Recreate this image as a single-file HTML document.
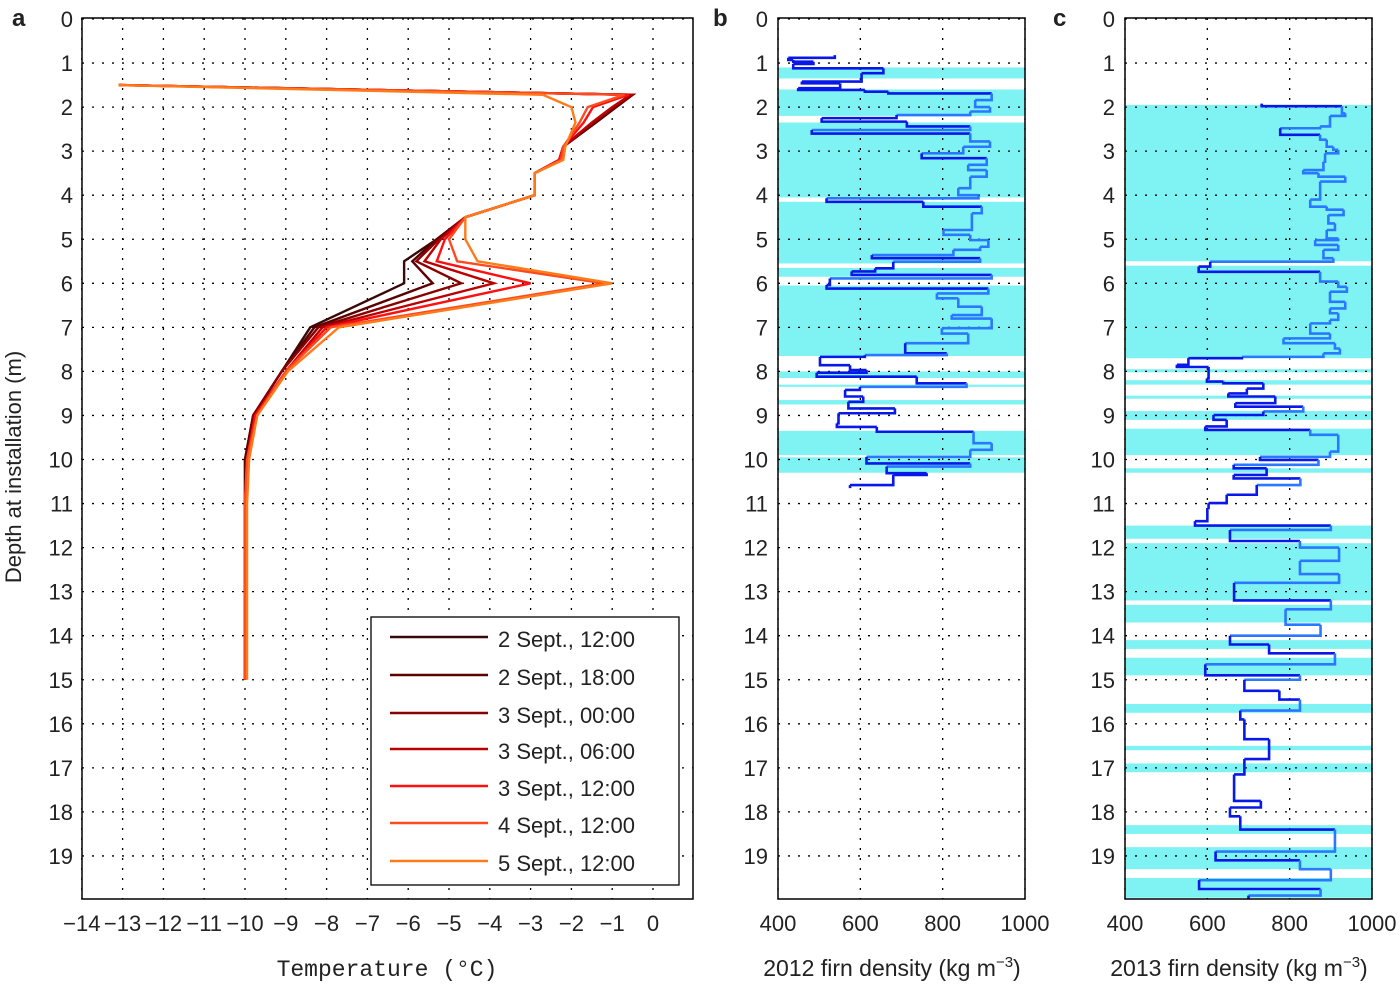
<!DOCTYPE html>
<html><head><meta charset="utf-8"><style>
body{margin:0;background:#fff}
svg{display:block}
text{font-family:"Liberation Sans",sans-serif;font-size:22px;fill:#222}
</style></head><body>
<svg id="chart" width="1400" height="986" viewBox="0 0 1400 986" xmlns="http://www.w3.org/2000/svg"></svg>
<script>
// ---- Panel a data ----
const depthsA = [1.5,1.72,2.0,2.35,2.9,3.2,3.5,4.0,4.5,5.0,5.5,6.0,7.0,8.0,9.0,10.0,11,12,13,14,15];
const seriesNames = ["2 Sept., 12:00","2 Sept., 18:00","3 Sept., 00:00","3 Sept., 06:00","3 Sept., 12:00","4 Sept., 12:00","5 Sept., 12:00"];
const t1 = [-13.1,-0.5,-0.9,-1.4,-2.2,-2.3,-2.9,-2.9,-4.6,-5.3,-6.1,-6.1,-8.4,-9.1,-9.8,-10.0,-10,-10,-10,-10,-10];
const t2 = [-13.1,-0.5,-0.9,-1.4,-2.2,-2.3,-2.9,-2.9,-4.6,-5.3,-5.9,-5.4,-8.3,-9.1,-9.8,-10.0,-10,-10,-10,-10,-10];
const t3 = [-13.1,-0.5,-0.95,-1.45,-2.2,-2.3,-2.9,-2.9,-4.6,-5.25,-5.8,-4.7,-8.2,-9.1,-9.8,-9.95,-10,-10,-10,-10,-10];
const t4 = [-13.1,-0.55,-1.0,-1.5,-2.2,-2.3,-2.9,-2.9,-4.6,-5.2,-5.6,-3.9,-8.1,-9.0,-9.75,-9.95,-10,-10,-10,-10,-10];
const t5 = [-13.1,-0.6,-1.47,-1.7,-2.2,-2.3,-2.9,-2.9,-4.6,-5.1,-5.3,-3.0,-8.0,-9.0,-9.75,-9.95,-10,-10,-10,-10,-10];
const t6 = [-13.1,-0.7,-1.6,-1.8,-2.2,-2.25,-2.9,-2.9,-4.6,-5.0,-4.8,-1.2,-7.9,-9.0,-9.7,-9.95,-10,-10,-10,-10,-10];
const t7 = [-13.1,-2.7,-2.0,-1.9,-2.15,-2.2,-2.9,-2.9,-4.6,-4.6,-4.3,-1.0,-7.7,-8.95,-9.7,-9.9,-9.95,-9.95,-9.95,-9.95,-9.95];
const tempTicks = ["−14","−13","−12","−11","−10","−9","−8","−7","−6","−5","−4","−3","−2","−1","0"];
const tempTickVals = [-14,-13,-12,-11,-10,-9,-8,-7,-6,-5,-4,-3,-2,-1,0];
const depthTicks = [0,1,2,3,4,5,6,7,8,9,10,11,12,13,14,15,16,17,18,19];
// ---- Panel b data ----
const dep2012 = [0.82,0.88,0.93,0.97,1.02,1.12,1.23,1.42,1.46,1.57,1.61,1.65,1.69,1.84,2.0,2.1,2.18,2.25,2.33,2.44,2.52,2.6,2.78,2.9,3.05,3.16,3.31,3.43,3.58,3.84,4.0,4.07,4.15,4.26,4.41,4.79,4.9,5.02,5.17,5.24,5.36,5.43,5.51,5.66,5.73,5.81,5.89,6.04,6.12,6.23,6.34,6.53,6.72,6.8,7.02,7.14,7.36,7.59,7.63,7.67,7.86,7.97,8.03,8.12,8.27,8.35,8.42,8.57,8.69,8.84,8.95,9.18,9.26,9.37,9.63,9.78,9.94,10.09,10.16,10.31,10.35,10.58,10.65];
const rho2012 = [538,425,437,486,437,656,603,458,551,449,611,668,919,879,915,867,688,506,713,867,482,867,915,850,749,907,862,907,867,838,887,518,753,895,871,802,867,911,891,826,628,891,680,636,579,919,526,518,911,786,838,895,822,919,798,862,709,810,611,502,575,615,494,737,858,599,563,607,571,684,547,543,640,875,919,867,615,867,664,761,680,575,575];
const ice2012 = [[1.1,1.35],[1.6,2.2],[2.35,4.05],[4.15,5.55],[5.65,5.85],[6.05,7.65],[8.0,8.15],[8.3,8.35],[8.65,8.75],[9.35,9.9],[9.95,10.3]];
// ---- Panel c data ----
const dep2013 = [1.92,1.98,2.14,2.2,2.37,2.44,2.48,2.63,2.74,2.9,2.97,3.05,3.24,3.43,3.5,3.58,3.69,4.1,4.26,4.33,4.45,4.64,4.79,4.98,5.02,5.13,5.24,5.43,5.51,5.62,5.74,5.96,6.08,6.19,6.42,6.57,6.68,6.83,6.91,7.14,7.25,7.36,7.48,7.59,7.67,7.7,7.85,7.9,8.16,8.23,8.27,8.39,8.5,8.57,8.72,8.8,8.91,8.99,9.1,9.25,9.33,9.44,9.82,9.94,10.01,10.12,10.2,10.35,10.43,10.58,10.8,10.99,11.1,11.4,11.5,11.6,11.85,12.0,12.3,12.6,12.8,13.2,13.4,13.75,14.0,14.2,14.4,14.65,14.9,15.0,15.25,15.45,15.7,15.9,16.35,16.8,17.15,17.75,17.9,18.1,18.4,18.9,19.1,19.3,19.55,19.75,19.9,19.98];
const rho2013 = [732,927,935,898,898,874,777,874,890,906,918,886,882,833,870,935,874,850,890,931,894,910,890,918,862,918,882,906,607,579,874,918,939,898,935,898,918,898,850,898,785,910,922,882,684,554,526,603,599,639,736,696,651,765,668,833,736,615,647,595,850,918,898,728,870,664,744,664,826,720,647,603,600,570,900,655,825,920,825,920,665,900,790,875,655,750,910,595,825,690,775,825,680,690,750,690,665,730,655,680,910,620,825,900,580,875,700];
const ice2013 = [[1.95,5.5],[5.6,7.7],[7.95,8.02],[8.2,8.3],[8.55,8.62],[8.9,9.1],[9.3,9.9],[10.2,10.3],[11.5,11.8],[11.9,13.2],[13.3,13.7],[14.1,14.3],[14.5,14.9],[15.55,15.75],[16.5,16.6],[16.9,17.1],[18.3,18.5],[18.8,19.3],[19.5,19.95]];
const rhoTicks = [400,600,800,1000];

const svg = document.getElementById('chart');
const NS = 'http://www.w3.org/2000/svg';
function mk(tag, attrs, parent){const e=document.createElementNS(NS,tag);for(const k in attrs)e.setAttribute(k,attrs[k]);(parent||svg).appendChild(e);return e;}
const Y0=19, DY=44.05, YB=899;
const yD = d => Y0 + d*DY;
const xT = t => 653 + t*40.8;
function xR(left){return r => left + (r-400)*247/600;}

// ---------- Panel a ----------
const ga = mk('g',{});


tempTickVals.forEach((v,i)=>{
  mk('line',{x1:xT(v),x2:xT(v),y1:18,y2:YB,stroke:'#000','stroke-dasharray':'2,8','stroke-width':1.3},ga);
  const t=mk('text',{x:xT(v),y:931,'text-anchor':'middle'},ga); t.textContent=tempTicks[i];
   
});
depthTicks.forEach(d=>{
  mk('line',{x1:82,x2:693,y1:yD(d),y2:yD(d),stroke:'#000','stroke-dasharray':'2,8','stroke-width':1.3},ga);
  const t=mk('text',{x:73,y:yD(d)+8,'text-anchor':'end'},ga); t.textContent=d;
   
});
const colors=['#3a0808','#5c0000','#8a0000','#bb0000','#ff1010','#ff4a20','#ff7a18'];
[t1,t2,t3,t4,t5,t6,t7].forEach((s,i)=>{
  const p=mk('polyline',{points:s.map((t,j)=>xT(t)+','+yD(depthsA[j])).join(' '),fill:'none',stroke:colors[i],'stroke-width':2.4},ga);
  
  
});
mk('rect',{x:82,y:18,width:611,height:881,fill:'none',stroke:'#000','stroke-width':1.5},ga);
const lg=mk('g',{},ga);


mk('rect',{x:371,y:617,width:308,height:268,fill:'#fff',stroke:'#000','stroke-width':1.3},lg);
const lys=[640,678,716,752,789,826,864];
seriesNames.forEach((n,i)=>{
  const e=mk('g',{},lg);
  
  
  mk('line',{x1:390,x2:488,y1:lys[i]-3,y2:lys[i]-3,stroke:colors[i],'stroke-width':2.5},e);
  const t=mk('text',{x:498,y:lys[i]+7},e); t.textContent=n;
});
const xl=mk('text',{x:387,y:976,'text-anchor':'middle',style:'font-family:"Liberation Mono",monospace;font-size:23px'},ga);
xl.textContent='Temperature (°C)';
 
const yl=mk('text',{x:0,y:0,'text-anchor':'middle',transform:'translate(21,467) rotate(-90)'},ga);
yl.textContent='Depth at installation (m)';
 

// ---------- Density panels ----------
function densityPanel(left, deps, rhos, ice, label, tickX, name){
  const g=mk('g',{});
  
  
  const xr=xR(left), right=left+247;
  ice.forEach(b=>{
    const r=mk('rect',{x:left,y:yD(b[0]),width:247,height:yD(b[1])-yD(b[0]),fill:'#7ff3f3'},g);
     
  });
  rhoTicks.forEach(v=>{
    mk('line',{x1:xr(v),x2:xr(v),y1:18,y2:YB,stroke:'#000','stroke-dasharray':'2,8','stroke-width':1.3},g);
    const t=mk('text',{x:xr(v),y:931,'text-anchor':'middle'},g); t.textContent=v;
     
  });
  depthTicks.forEach(d=>{
    mk('line',{x1:left,x2:right,y1:yD(d),y2:yD(d),stroke:'#000','stroke-dasharray':'2,8','stroke-width':1.3},g);
    const t=mk('text',{x:tickX,y:yD(d)+8,'text-anchor':'end'},g); t.textContent=d;
     
  });
  for(let i=0;i+1<deps.length;i++){
    const x0=xr(rhos[i]), x1=xr(rhos[i+1]);
    const col = rhos[i] < 780 ? '#0818e8' : '#2a78ff';
    const p=mk('polyline',{points:x0+','+yD(deps[i])+' '+x0+','+yD(deps[i+1])+' '+x1+','+yD(deps[i+1]),fill:'none',stroke:col,'stroke-width':2.6},g);
    
    
  }
  mk('rect',{x:left,y:18,width:247,height:881,fill:'none',stroke:'#000','stroke-width':1.5},g);
  const t=mk('text',{x:left+114,y:976,'text-anchor':'middle',style:'font-size:23px'},g);
  t.innerHTML=label+' firn density (kg m<tspan dy="-9" font-size="15">−3</tspan><tspan dy="9">)</tspan>';
   
}
densityPanel(778,dep2012,rho2012,ice2012,'2012',768,'density-2012-panel');
densityPanel(1125,dep2013,rho2013,ice2013,'2013',1115,'density-2013-panel');

[['a',12,26],['b',713,26],['c',1053,26]].forEach(a=>{
  const t=mk('text',{x:a[1],y:a[2],style:'font-weight:bold;font-size:24px'}); t.textContent=a[0];
   
});
</script>
</body></html>
